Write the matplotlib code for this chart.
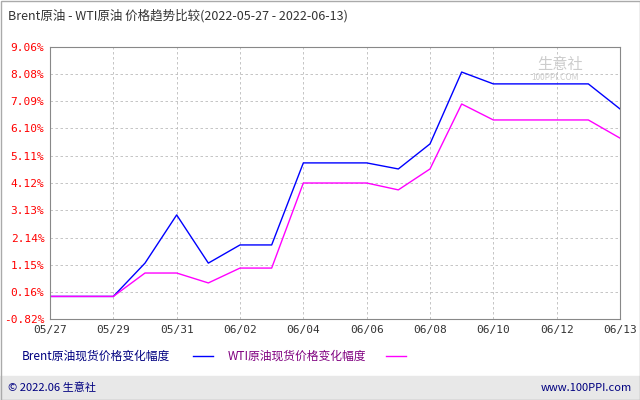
import matplotlib
matplotlib.use("Agg")
import matplotlib.pyplot as plt
from matplotlib.patches import Rectangle

plt.rcParams['font.family'] = ['Noto Sans CJK SC', 'DejaVu Sans']

dates = ["05/27","05/28","05/29","05/30","05/31","06/01","06/02","06/03","06/04","06/05",
         "06/06","06/07","06/08","06/09","06/10","06/11","06/12","06/12+","06/13"]
brent = [0,0,0,1.21,2.96,1.21,1.87,1.87,4.85,4.85,4.85,4.63,5.54,8.15,7.72,7.72,7.72,7.72,6.81]
wti = [0,0,0,0.85,0.85,0.49,1.03,1.03,4.12,4.12,4.12,3.87,4.63,6.99,6.41,6.41,6.41,6.41,5.75]
yticks = [-0.82,0.16,1.15,2.14,3.13,4.12,5.11,6.10,7.09,8.08,9.06]
xtick_labels = ["05/27","05/29","05/31","06/02","06/04","06/06","06/08","06/10","06/12","06/13"]

fig = plt.figure(figsize=(6.4,4.0), dpi=100)
ax = fig.add_axes([50/640, 1-319/400, 570/640, 272/400])
x = list(range(len(dates)))
ax.plot(x, brent, color='#0000ff', lw=1)
ax.plot(x, wti, color='#ff00ff', lw=1)
ax.set_xlim(0, len(dates)-1)
ax.set_ylim(-0.82, 9.06)
ax.set_yticks(yticks)
ax.set_yticklabels([f"{v:.2f}%" for v in yticks], color='#ff0000', fontsize=8, family='DejaVu Sans Mono')
xpos = [dates.index(d) for d in xtick_labels]
ax.set_xticks(xpos)
ax.set_xticklabels(xtick_labels, fontsize=8, family='DejaVu Sans Mono', color='#333333')
ax.tick_params(length=0, pad=4)
ax.grid(True, color='#bbbbbb', ls=(0,(3,3)), lw=0.6)
for s in ax.spines.values():
    s.set_color('#888888'); s.set_linewidth(0.8)

fig.text(8/640, 1-16/400, "Brent原油 - WTI原油 价格趋势比较(2022-05-27 - 2022-06-13)", fontsize=9, va='center', color='#333333')
fig.text(560/640, 1-65/400, "生意社", fontsize=11, color='#cccccc', ha='center', va='center')
fig.text(555/640, 1-78/400, "100PPI.COM", fontsize=6, color='#cccccc', ha='center', va='center')

# legend
fig.text(22/640, 1-356/400, "Brent原油现货价格变化幅度", fontsize=8.5, va='center', color='#000080')
fig.add_artist(plt.Line2D([193/640,213/640],[1-356/400]*2, color='#0000ff', lw=1))
fig.text(228/640, 1-356/400, "WTI原油现货价格变化幅度", fontsize=8.5, va='center', color='#800080')
fig.add_artist(plt.Line2D([386/640,406/640],[1-356/400]*2, color='#ff00ff', lw=1))

# footer
fig.add_artist(Rectangle((0,0),1,24/400, transform=fig.transFigure, color='#e8e8e8', zorder=-1))
fig.text(8/640, 12/400, "© 2022.06 生意社", fontsize=8, va='center', color='#000080')
fig.text(632/640, 12/400, "www.100PPI.com", fontsize=8, va='center', ha='right', color='#000080')
fig.add_artist(Rectangle((0.5/640,0.5/400),639/640,399/400, transform=fig.transFigure, fill=False, ec='#aaaaaa', lw=1))

fig.savefig("out.png", dpi=100)
